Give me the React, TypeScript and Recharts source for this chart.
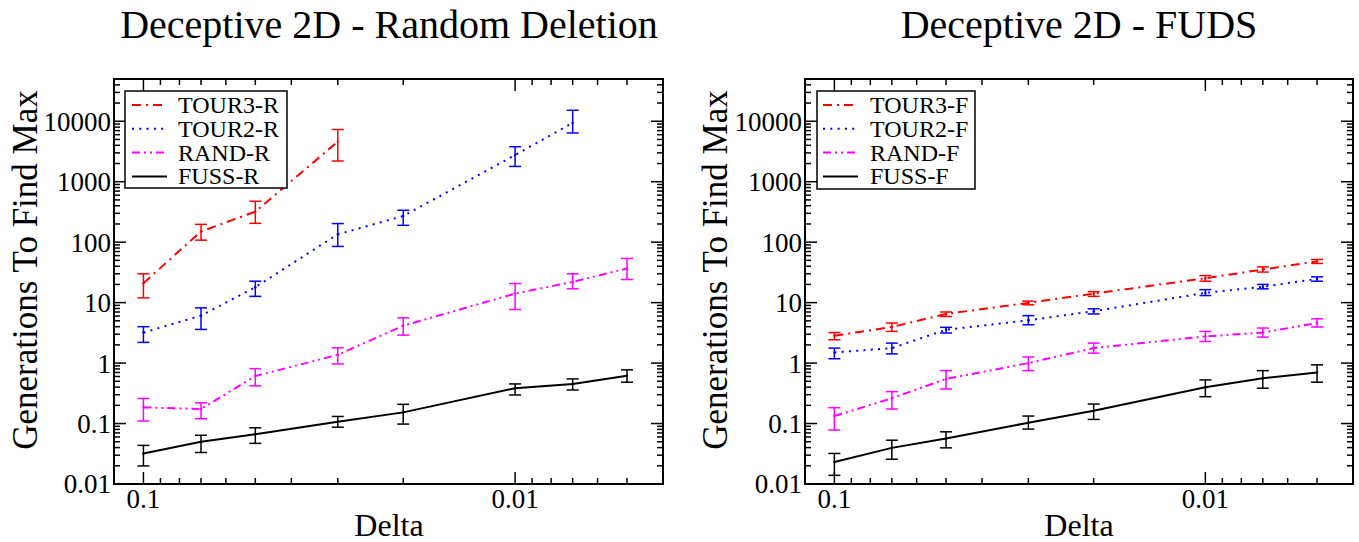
import React from 'react';
import { LineChart, Line, XAxis, YAxis, ErrorBar, ReferenceArea } from 'recharts';

const SERIF = 'Liberation Serif, DejaVu Serif, serif';

// Delta values (x axis, shown reversed)
const DELTA = [0.1, 0.07, 0.05, 0.03, 0.02, 0.01, 0.007, 0.005];

// Random Deletion panel
const TOUR3_R = [21, 150, 320, 4600];
const TOUR3_R_LO = [12, 108, 205, 2200];
const TOUR3_R_HI = [30, 197, 475, 7300];

const TOUR2_R = [3.2, 6.1, 18, 135, 271, 2760, 9400];
const TOUR2_R_LO = [2.2, 3.6, 12.7, 85, 190, 1790, 6400];
const TOUR2_R_HI = [4.0, 8.2, 22.6, 203, 337, 3790, 15200];

const RAND_R = [0.185, 0.174, 0.61, 1.37, 4.15, 14.1, 22, 36.7];
const RAND_R_LO = [0.11, 0.12, 0.42, 0.97, 2.9, 7.7, 16.9, 24.1];
const RAND_R_HI = [0.26, 0.22, 0.81, 1.79, 5.6, 20.7, 30, 53.8];

const FUSS_R = [0.032, 0.0498, 0.0668, 0.107, 0.153, 0.384, 0.452, 0.62];
const FUSS_R_LO = [0.0199, 0.0332, 0.047, 0.087, 0.098, 0.297, 0.359, 0.483];
const FUSS_R_HI = [0.0435, 0.064, 0.085, 0.131, 0.208, 0.452, 0.547, 0.773];

// FUDS panel
const TOUR3_F = [2.83, 3.95, 6.5, 9.9, 14.1, 25.3, 35.3, 48];
const TOUR3_F_LO = [2.43, 3.34, 5.9, 9.2, 12.7, 22.6, 32, 44.5];
const TOUR3_F_HI = [3.2, 4.6, 7.0, 10.6, 15.2, 28, 39, 51.7];

const TOUR2_F = [1.5, 1.77, 3.56, 5.1, 7.2, 14.5, 18.2, 24.8];
const TOUR2_F_LO = [1.18, 1.42, 3.14, 4.3, 6.5, 13.1, 16.9, 22.6];
const TOUR2_F_HI = [1.77, 2.14, 3.9, 6.1, 7.9, 16.4, 20, 26.7];

const RAND_F = [0.133, 0.262, 0.547, 1.0, 1.77, 2.76, 3.2, 4.6];
const RAND_F_LO = [0.078, 0.174, 0.373, 0.75, 1.46, 2.28, 2.69, 3.95];
const RAND_F_HI = [0.183, 0.337, 0.75, 1.26, 2.14, 3.34, 3.8, 5.4];

const FUSS_F = [0.0232, 0.0396, 0.0567, 0.103, 0.163, 0.398, 0.562, 0.7];
const FUSS_F_LO = [0.0139, 0.0257, 0.0396, 0.081, 0.117, 0.278, 0.384, 0.483];
const FUSS_F_HI = [0.032, 0.053, 0.073, 0.133, 0.21, 0.527, 0.75, 0.935];

const X_MAJOR = [0.1, 0.01];
const Y_MAJOR = [0.01, 0.1, 1, 10, 100, 1000, 10000];
const MULTS = [2, 3, 4, 5, 6, 7, 8, 9];

const X_TICKS = [0.1, ...MULTS.map((m) => m * 0.01), 0.01, ...[5, 6, 7, 8, 9].map((m) => m * 0.001)];
const Y_TICKS = Y_MAJOR.flatMap((p) => [p, ...MULTS.map((m) => m * p)]).filter((v) => v <= 50000);

const X_DOMAIN: [number, number] = [0.004, 0.12];
const Y_DOMAIN: [number, number] = [0.01, 50000];

const PLOT_TOP = 79;
const PLOT_BOTTOM = 484;
const PLOT_H = PLOT_BOTTOM - PLOT_TOP;
const CHART_H = 542;
const X_AXIS_H = 40;
const Y_AXIS_W = 100;

const STYLE = {
  tour3: { color: '#ff0000', dash: '9 5 2 5' },
  tour2: { color: '#0000ff', dash: '2 5.3' },
  rand: { color: '#ff00ff', dash: '8 4 2 4 2 4' },
  fuss: { color: '#000000', dash: undefined as string | undefined },
};

function rows(ys: number[], lo: number[], hi: number[]) {
  return ys.map((y, i) => ({ x: DELTA[i], y, err: [y - lo[i], hi[i] - y] }));
}

function isMajor(list: number[], v: number) {
  return list.some((m) => Math.abs(m - v) / m < 1e-6);
}

const textStyle = { fontFamily: SERIF };

function makeXTick(plotH: number) {
  return (props: any) => {
    const { x, y, payload } = props;
    const v = payload.value as number;
    const major = isMajor(X_MAJOR, v);
    const len = major ? 12 : 6;
    return (
      <g>
        <line x1={x} y1={y} x2={x} y2={y - len} stroke="#000" strokeWidth={1.5} />
        <line x1={x} y1={y - plotH} x2={x} y2={y - plotH + len} stroke="#000" strokeWidth={1.5} />
        {major && (
          <text x={x} y={y + 24} textAnchor="middle" fontSize={27} style={textStyle} fill="#000">
            {String(v)}
          </text>
        )}
      </g>
    );
  };
}

function makeYTick(plotW: number) {
  return (props: any) => {
    const { x, y, payload } = props;
    const v = payload.value as number;
    const major = isMajor(Y_MAJOR, v);
    const len = major ? 12 : 6;
    return (
      <g>
        <line x1={x} y1={y} x2={x + len} y2={y} stroke="#000" strokeWidth={1.5} />
        <line x1={x + plotW} y1={y} x2={x + plotW - len} y2={y} stroke="#000" strokeWidth={1.5} />
        {major && (
          <text x={x - 3} y={y} dy="0.35em" textAnchor="end" fontSize={27} style={textStyle} fill="#000">
            {String(v)}
          </text>
        )}
      </g>
    );
  };
}

interface SeriesDef {
  key: string;
  style: { color: string; dash?: string };
  data: { x: number; y: number; err: number[] }[];
}

function Panel({
  left,
  width,
  plotLeft,
  plotRight,
  series,
}: {
  left: number;
  width: number;
  plotLeft: number;
  plotRight: number;
  series: SeriesDef[];
}) {
  const plotW = plotRight - plotLeft;
  return (
    <div style={{ position: 'absolute', left, top: 0 }}>
      <LineChart
        width={width}
        height={CHART_H}
        margin={{
          top: PLOT_TOP,
          left: plotLeft - Y_AXIS_W,
          right: width - plotRight,
          bottom: CHART_H - PLOT_BOTTOM - X_AXIS_H,
        }}
      >
        <XAxis
          dataKey="x"
          type="number"
          scale="log"
          domain={X_DOMAIN}
          reversed
          allowDataOverflow
          ticks={X_TICKS}
          interval={0}
          tickSize={0}
          tickMargin={0}
          tickLine={false}
          axisLine={false}
          height={X_AXIS_H}
          tick={makeXTick(PLOT_H)}
        />
        <YAxis
          type="number"
          scale="log"
          domain={Y_DOMAIN}
          allowDataOverflow
          ticks={Y_TICKS}
          interval={0}
          tickSize={0}
          tickMargin={0}
          tickLine={false}
          axisLine={false}
          width={Y_AXIS_W}
          tick={makeYTick(plotW)}
        />
        <ReferenceArea
          x1={X_DOMAIN[0]}
          x2={X_DOMAIN[1]}
          y1={Y_DOMAIN[0]}
          y2={Y_DOMAIN[1]}
          fill="none"
          fillOpacity={0}
          stroke="#000"
          strokeWidth={2}
          strokeOpacity={1}
        />
        {series.map((s) => (
          <Line
            key={s.key}
            data={s.data}
            dataKey="y"
            type="linear"
            stroke={s.style.color}
            strokeWidth={2}
            strokeDasharray={s.style.dash}
            dot={{ r: 1.2, fill: s.style.color, stroke: 'none' }}
            activeDot={false}
            isAnimationActive={false}
          >
            <ErrorBar dataKey="err" width={6} stroke={s.style.color} strokeWidth={1.5} direction="y" />
          </Line>
        ))}
      </LineChart>
    </div>
  );
}

function LegendBox({
  x,
  y,
  w,
  h,
  lineX,
  textX,
  items,
}: {
  x: number;
  y: number;
  w: number;
  h: number;
  lineX: number;
  textX: number;
  items: { label: string; style: { color: string; dash?: string } }[];
}) {
  return (
    <g>
      <rect x={x} y={y} width={w} height={h} fill="#fff" stroke="#000" strokeWidth={1.5} />
      {items.map((it, i) => {
        const cy = y + 14 + i * 23.8;
        return (
          <g key={it.label}>
            <line
              x1={lineX}
              y1={cy}
              x2={lineX + 35}
              y2={cy}
              stroke={it.style.color}
              strokeWidth={2}
              strokeDasharray={it.style.dash}
            />
            <text x={textX} y={cy + 8} fontSize={24} style={textStyle} fill="#000">
              {it.label}
            </text>
          </g>
        );
      })}
    </g>
  );
}

export default function App() {
  const leftSeries: SeriesDef[] = [
    { key: 'TOUR3-R', style: STYLE.tour3, data: rows(TOUR3_R, TOUR3_R_LO, TOUR3_R_HI) },
    { key: 'TOUR2-R', style: STYLE.tour2, data: rows(TOUR2_R, TOUR2_R_LO, TOUR2_R_HI) },
    { key: 'RAND-R', style: STYLE.rand, data: rows(RAND_R, RAND_R_LO, RAND_R_HI) },
    { key: 'FUSS-R', style: STYLE.fuss, data: rows(FUSS_R, FUSS_R_LO, FUSS_R_HI) },
  ];
  const rightSeries: SeriesDef[] = [
    { key: 'TOUR3-F', style: STYLE.tour3, data: rows(TOUR3_F, TOUR3_F_LO, TOUR3_F_HI) },
    { key: 'TOUR2-F', style: STYLE.tour2, data: rows(TOUR2_F, TOUR2_F_LO, TOUR2_F_HI) },
    { key: 'RAND-F', style: STYLE.rand, data: rows(RAND_F, RAND_F_LO, RAND_F_HI) },
    { key: 'FUSS-F', style: STYLE.fuss, data: rows(FUSS_F, FUSS_F_LO, FUSS_F_HI) },
  ];

  return (
    <div
      style={{
        position: 'absolute',
        left: 0,
        top: 0,
        width: 1359,
        height: 542,
        background: '#fff',
        overflow: 'hidden',
        fontFamily: SERIF,
      }}
    >
      <Panel left={0} width={680} plotLeft={114} plotRight={663} series={leftSeries} />
      <Panel left={690} width={669} plotLeft={115} plotRight={663} series={rightSeries} />
      <svg
        width={1359}
        height={542}
        style={{ position: 'absolute', left: 0, top: 0, pointerEvents: 'none' }}
      >
        <text x={389} y={38} textAnchor="middle" fontSize={40} style={textStyle} fill="#000">
          Deceptive 2D - Random Deletion
        </text>
        <text x={1079} y={38} textAnchor="middle" fontSize={40} style={textStyle} fill="#000">
          Deceptive 2D - FUDS
        </text>
        <text x={389} y={536} textAnchor="middle" fontSize={32} style={textStyle} fill="#000">
          Delta
        </text>
        <text x={1079} y={536} textAnchor="middle" fontSize={32} style={textStyle} fill="#000">
          Delta
        </text>
        <text
          transform="translate(37,270) rotate(-90)"
          textAnchor="middle"
          fontSize={35}
          style={textStyle}
          fill="#000"
        >
          Generations To Find Max
        </text>
        <text
          transform="translate(727,270) rotate(-90)"
          textAnchor="middle"
          fontSize={35}
          style={textStyle}
          fill="#000"
        >
          Generations To Find Max
        </text>
        <LegendBox
          x={125}
          y={91}
          w={162}
          h={97}
          lineX={132}
          textX={178}
          items={leftSeries.map((s) => ({ label: s.key, style: s.style }))}
        />
        <LegendBox
          x={817}
          y={91}
          w={158}
          h={98}
          lineX={823}
          textX={870}
          items={rightSeries.map((s) => ({ label: s.key, style: s.style }))}
        />
      </svg>
    </div>
  );
}
